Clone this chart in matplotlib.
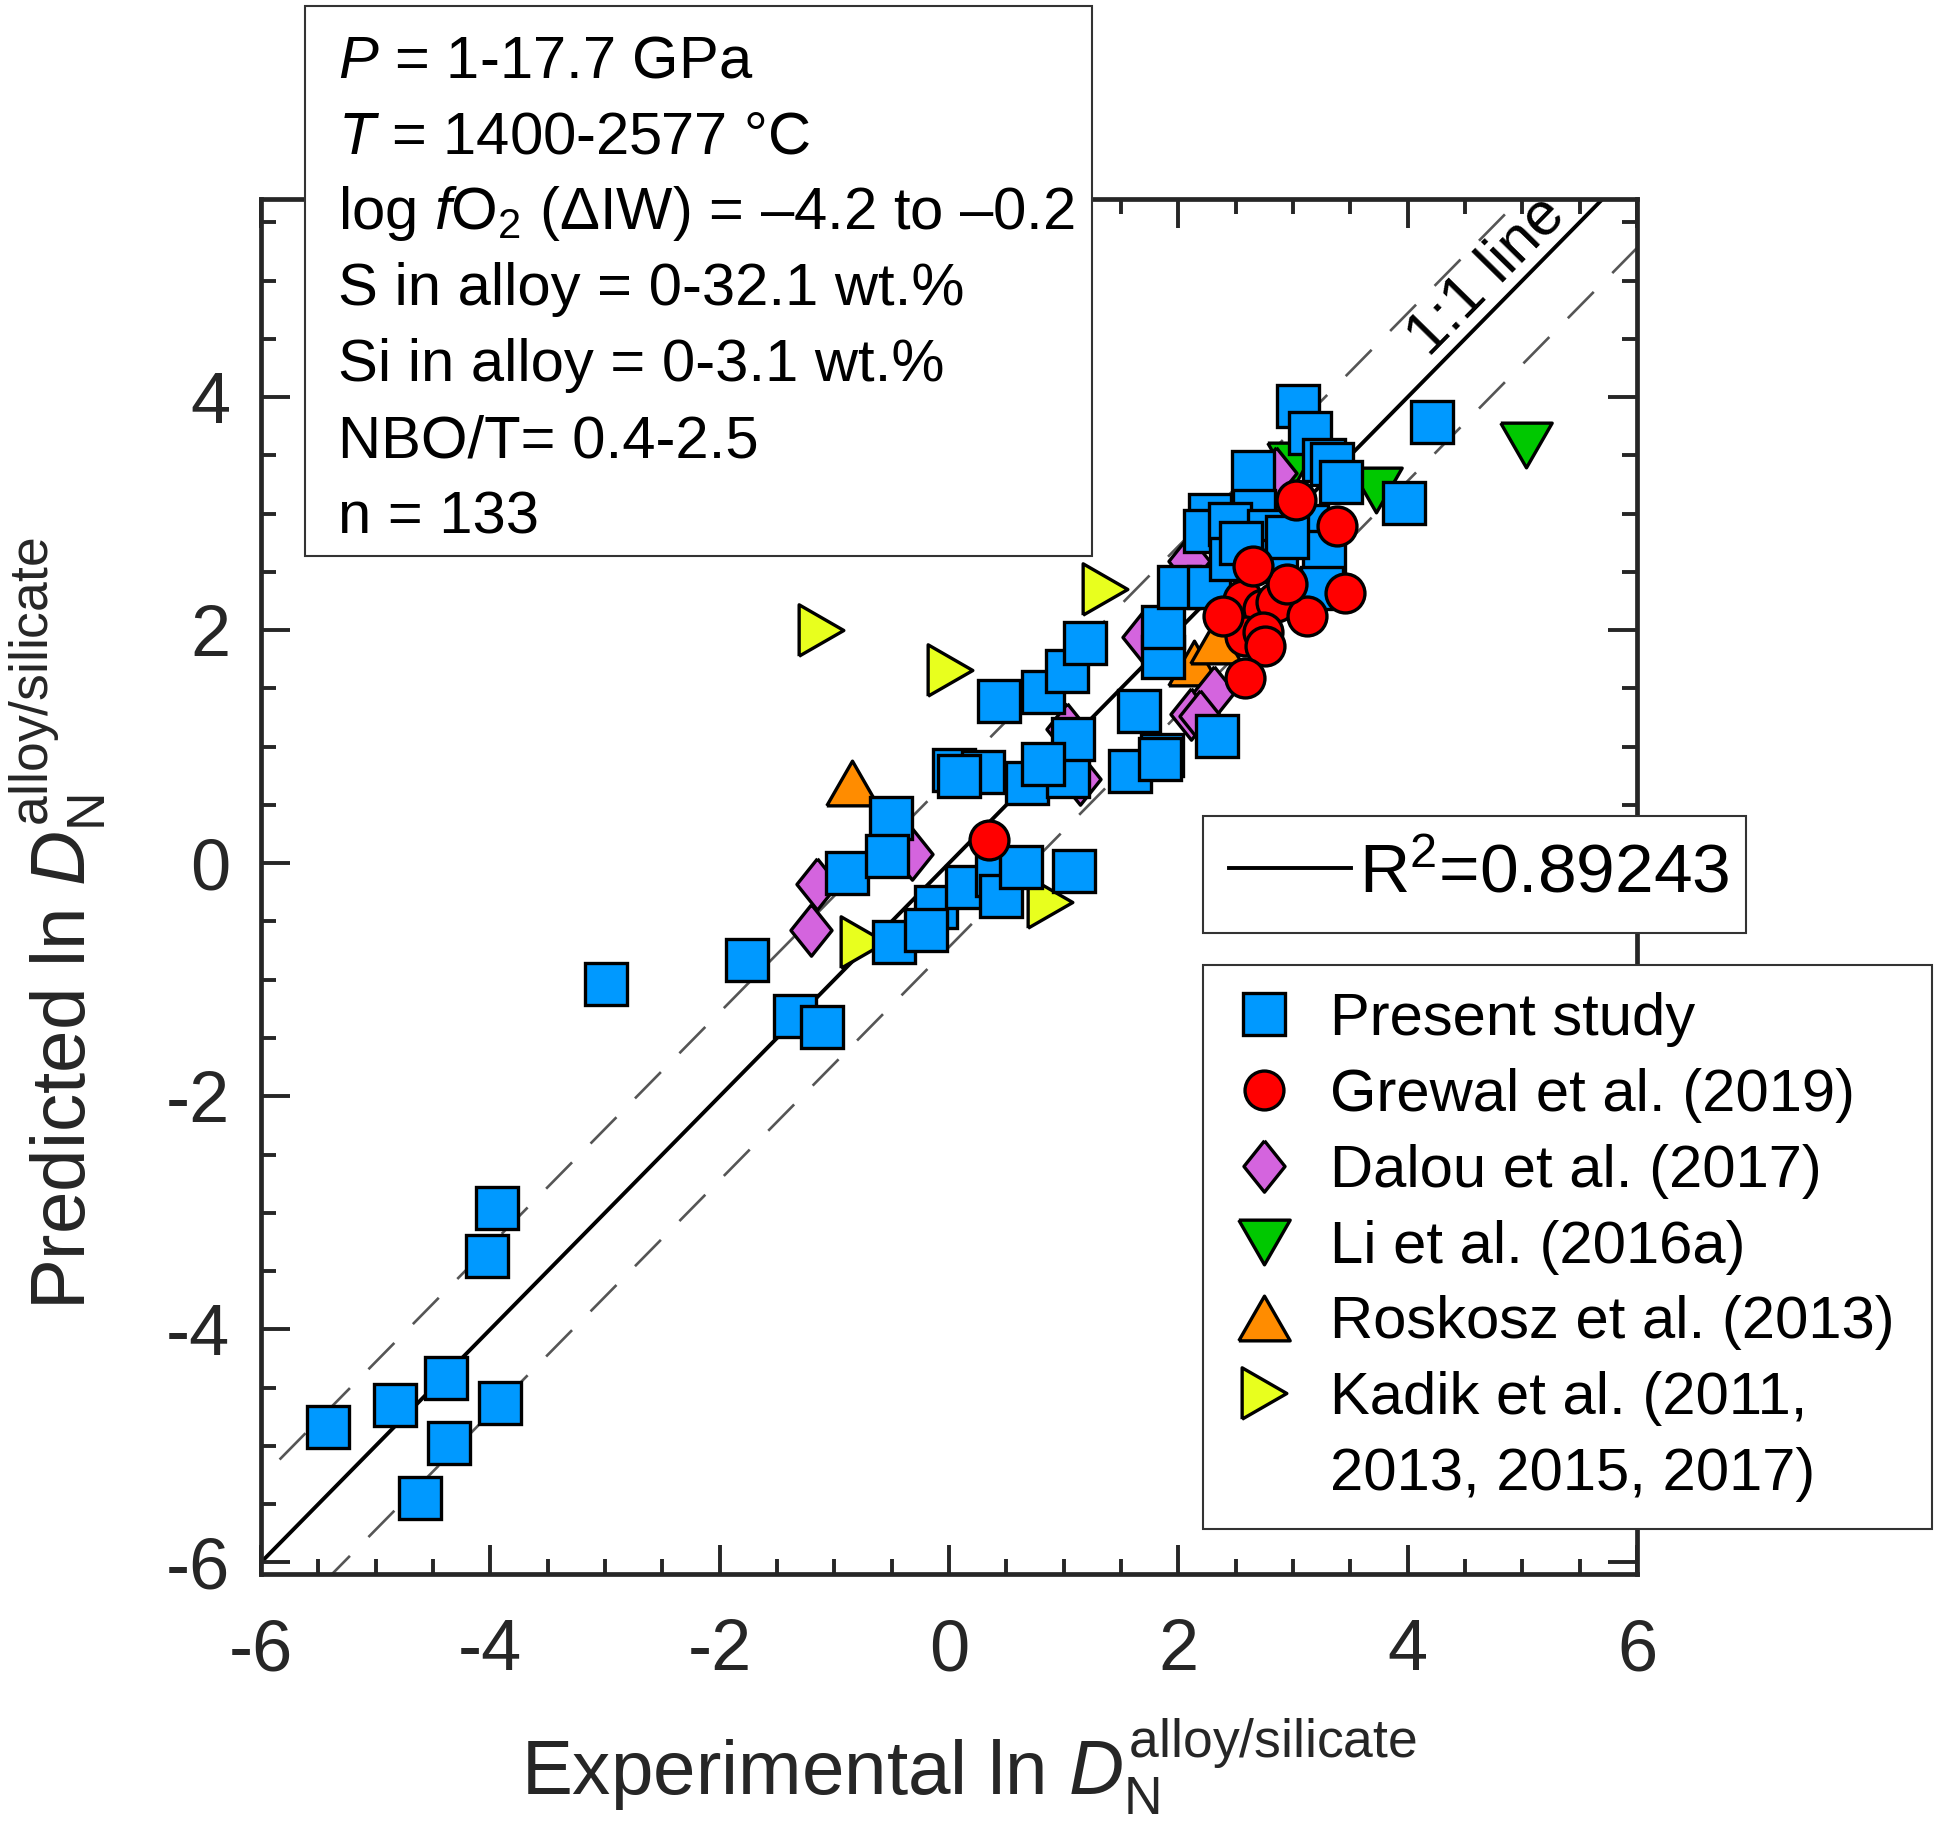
"""Predicted vs experimental ln D_N (alloy/silicate) with 1:1 line and literature data."""

import matplotlib
matplotlib.use("Agg")
import matplotlib.pyplot as plt
from matplotlib.lines import Line2D
from matplotlib.patches import Rectangle
from matplotlib.ticker import MultipleLocator
import numpy as np

plt.rcParams["font.family"] = ["Liberation Sans", "DejaVu Sans"]
plt.rcParams["mathtext.fontset"] = "custom"
plt.rcParams["mathtext.rm"] = "Liberation Sans"
plt.rcParams["mathtext.it"] = "Liberation Sans:italic"
plt.rcParams["mathtext.bf"] = "Liberation Sans:bold"
plt.rcParams["axes.unicode_minus"] = False

# ---- data (experimental, predicted) ----
present_x = [-5.42, -4.83, -4.39, -4.36, -4.61, -3.92, -4.03, -3.94, -2.99, -1.76,
             -1.34, -1.11, -0.89, -0.51, -0.54, -0.48, -0.11, -0.20, 0.16, 0.42,
             0.45, 0.63, 1.09, 0.04, 0.30, 0.68, 1.04, 1.08, 0.44, 0.82,
             1.03, 1.19, 1.58, 1.86, 1.66, 1.87, 1.87, 2.01, 2.27, 2.34,
             3.04, 3.15, 3.27, 3.34, 3.42, 4.21, 3.97, 2.65, 2.66, 2.28,
             2.23, 2.45, 2.79, 3.12, 2.46, 2.85, 3.27, 3.25, 1.84, 0.82,
             0.09, 2.55, 2.95]
present_y = [-4.84, -4.65, -4.42, -4.98, -5.45, -4.63, -3.37, -2.96, -1.04, -0.83,
             -1.31, -1.41, -0.08, 0.39, 0.06, -0.68, -0.38, -0.57, -0.20, -0.10,
             -0.28, -0.03, -0.07, 0.80, 0.78, 0.69, 0.75, 1.07, 1.39, 1.47,
             1.65, 1.89, 0.79, 0.93, 1.31, 1.77, 2.03, 2.37, 2.37, 1.09,
             3.92, 3.69, 3.46, 3.43, 3.27, 3.79, 3.09, 3.36, 3.02, 2.99,
             2.85, 2.91, 2.85, 2.89, 2.61, 2.59, 2.67, 2.36, 0.89, 0.85,
             0.75, 2.75, 2.80]

grewal_x = [0.35, 3.03, 3.38, 3.45, 2.56, 2.74, 2.85, 3.12, 2.58, 2.74,
            2.76, 2.39, 2.58, 2.95, 2.65]
grewal_y = [0.20, 3.12, 2.89, 2.32, 2.26, 2.18, 2.24, 2.12, 1.95, 1.98,
            1.86, 2.12, 1.59, 2.40, 2.55]

dalou_x = [-1.15, -1.20, -0.32, 2.11, 2.31, 1.69, 2.19, 1.14, 1.03, 2.85, 2.09]
dalou_y = [-0.18, -0.57, 0.08, 1.28, 1.47, 1.94, 1.26, 0.72, 1.15, 3.35, 2.59]

li_x = [5.03, 3.00, 3.72]
li_y = [3.59, 3.42, 3.20]

roskosz_x = [-0.85, 2.14, 2.33]
roskosz_y = [0.69, 1.72, 1.91]

kadik_x = [-1.12, 0.01, 1.36, 0.88, -0.75]
kadik_y = [2.00, 1.66, 2.35, -0.33, -0.68]

r2_label = r"R$^{2}$=0.89243"
band = 0.72  # half-width of dashed band

info_lines = [
    r"$\mathit{P}$ = 1-17.7 GPa",
    r"$\mathit{T}$ = 1400-2577 °C",
    r"log $\mathit{f}\mathrm{O}_{2}$ (ΔIW) = –4.2 to –0.2",
    "S in alloy = 0-32.1 wt.%",
    "Si in alloy = 0-3.1 wt.%",
    "NBO/T= 0.4-2.5",
    "n = 133",
]

# ---- markers ----
diamond = [(0, 1), (0.8, 0), (0, -1), (-0.8, 0), (0, 1)]
tri_up = [(-1, -0.87), (1, -0.87), (0, 0.87), (-1, -0.87)]
tri_down = [(-1, 0.87), (1, 0.87), (0, -0.87), (-1, 0.87)]
tri_right = [(-0.87, -1), (-0.87, 1), (0.87, 0), (-0.87, -1)]

series = [
    # label, x, y, marker, color, size
    ("Kadik et al. (2011,", kadik_x, kadik_y, tri_right, "#E8FF1E", 37),
    ("Roskosz et al. (2013)", roskosz_x, roskosz_y, tri_up, "#FF8C00", 37),
    ("Li et al. (2016a)", li_x, li_y, tri_down, "#00C800", 37),
    ("Dalou et al. (2017)", dalou_x, dalou_y, diamond, "#D464DE", 37),
    ("Present study", present_x, present_y, "s", "#0099FF", 30),
    ("Grewal et al. (2019)", grewal_x, grewal_y, "o", "#FF0000", 28),
]

W, H = 1939, 1842
fig = plt.figure(figsize=(W / 100, H / 100), dpi=100)
ax = fig.add_axes([261 / W, 1 - 1574 / H, (1637 - 261) / W, (1574 - 199) / H])

xx = np.array([-7.0, 7.0])
ax.plot(xx, xx, color="black", lw=2.8, zorder=1)
ax.plot(xx, xx + band, color="#555555", lw=1.9, dashes=(14, 10), zorder=1)
ax.plot(xx, xx - band, color="#555555", lw=1.9, dashes=(14, 10), zorder=1)

handles = {}
for label, x, y, m, c, s in series:
    h, = ax.plot(x, y, ls="none", marker=m, ms=s, mfc=c, mec="black", mew=2.4,
                 label=label, zorder=3)
    handles[label] = h

ax.text(4.69, 5.04, "1:1 line", rotation=45.5, rotation_mode="anchor",
        ha="center", va="center", fontsize=44)

ax.set_xlim(-6, 6)
ax.set_ylim(-6.1, 5.7)
ax.xaxis.set_major_locator(MultipleLocator(2))
ax.yaxis.set_major_locator(MultipleLocator(2))
ax.xaxis.set_minor_locator(MultipleLocator(0.5))
ax.yaxis.set_minor_locator(MultipleLocator(0.5))
ax.tick_params(which="both", direction="in", top=True, right=True,
               color="#262626", labelcolor="#262626", labelsize=52)
ax.tick_params(which="major", length=21, width=2.8)
ax.tick_params(which="minor", length=11, width=2.8)
ax.tick_params(axis="x", which="major", pad=32)
ax.tick_params(axis="y", which="major", pad=22)
for sp in ax.spines.values():
    sp.set_linewidth(3.4)
    sp.set_color("#262626")

fig.text(969 / W, 1 - 1767 / H,
         r"Experimental ln $\mathit{D}_{\mathrm{N}}^{\mathrm{alloy/silicate}}$",
         ha="center", va="center", fontsize=55, color="#262626")
fig.text(58 / W, 1 - 924 / H,
         r"Predicted ln $\mathit{D}_{\mathrm{N}}^{\mathrm{alloy/silicate}}$",
         ha="center", va="center", rotation=90, fontsize=55, color="#262626")

# info box
fig.add_artist(Rectangle((305 / W, 1 - 556 / H), (1092 - 305) / W, (556 - 6) / H,
                         transform=fig.transFigure, facecolor="white",
                         edgecolor="#333333", lw=1.5, zorder=5))
for i, line in enumerate(info_lines):
    fig.text(338 / W, 1 - (77 + 76 * i) / H, line, ha="left", va="baseline",
             fontsize=43, zorder=6)

# R^2 legend
r2_handle = Line2D([], [], color="black", lw=2.8)
leg1 = fig.legend([r2_handle], [r2_label], loc="upper left", mode="expand",
                  bbox_to_anchor=(1203 / W, 0, (1746 - 1203) / W, 1 - 816 / H),
                  borderaxespad=0, fontsize=50, handlelength=1.75,
                  handletextpad=0.12, borderpad=0.38, fancybox=False,
                  framealpha=1, edgecolor="#333333")
leg1.get_frame().set_linewidth(1.5)

# main legend
order = ["Present study", "Grewal et al. (2019)", "Dalou et al. (2017)",
         "Li et al. (2016a)", "Roskosz et al. (2013)", "Kadik et al. (2011,"]
hs = [handles[k] for k in order] + [Line2D([], [], ls="none")]
labels = order + ["2013, 2015, 2017)"]
leg2 = fig.legend(hs, labels, loc="upper left", mode="expand",
                  bbox_to_anchor=(1203 / W, 0, (1932 - 1203) / W, 1 - 965 / H),
                  borderaxespad=0, fontsize=43, handlelength=1.15,
                  handletextpad=0.53, borderpad=0.45, labelspacing=0.35,
                  fancybox=False, framealpha=1, edgecolor="#333333")
leg2.get_frame().set_linewidth(1.5)

fig.savefig("out.png", dpi=100)
